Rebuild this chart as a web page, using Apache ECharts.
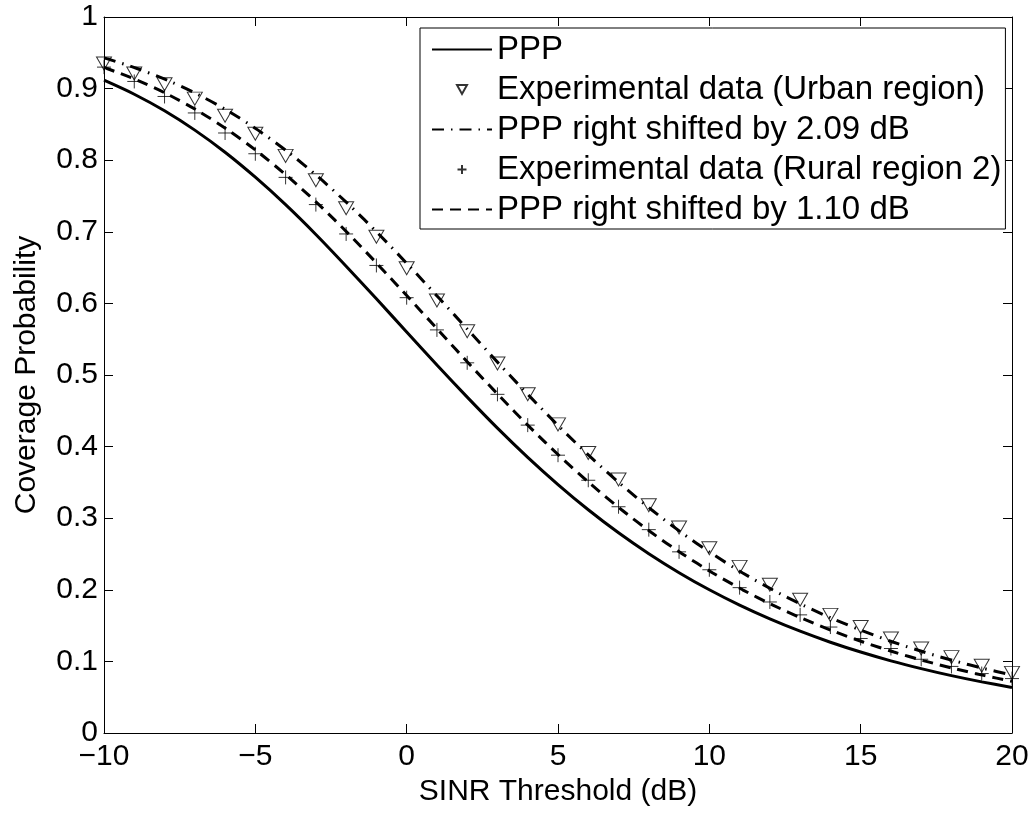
<!DOCTYPE html>
<html>
<head>
<meta charset="utf-8">
<script src="https://cdn.jsdelivr.net/npm/echarts@6/dist/echarts.min.js"></script>
<style>
html,body{margin:0;padding:0;background:#fff;}
#chart{width:1035px;height:813px;}
</style>
</head>
<body>
<div id="chart"></div>
<script>
// ---- data ----
const xTicks = [-10, -5, 0, 5, 10, 15, 20];
const yTicks = [0, 0.1, 0.2, 0.3, 0.4, 0.5, 0.6, 0.7, 0.8, 0.9, 1];

// PPP analytic curve (solid)
const pppX = [-10,-9,-8,-7,-6,-5,-4,-3,-2,-1,0,1,2,3,4,5,6,7,8,9,10,11,12,13,14,15,16,17,18,19,20];
const pppY = [0.9117,0.8921,0.8690,0.8420,0.8111,0.7762,0.7379,0.6963,0.6520,0.6064,0.5601,0.5139,0.4691,0.4258,0.3850,0.3470,0.3118,0.2796,0.2504,0.2239,0.2000,0.1786,0.1594,0.1422,0.1268,0.1131,0.1008,0.0899,0.0801,0.0714,0.0636];

// PPP right shifted by 2.09 dB (dash-dot)
const shift209X = [-10,-9.91,-8.91,-7.91,-6.91,-5.91,-4.91,-3.91,-2.91,-1.91,-0.91,0.09,1.09,2.09,3.09,4.09,5.09,6.09,7.09,8.09,9.09,10.09,11.09,12.09,13.09,14.09,15.09,16.09,17.09,18.09,19.09,20];
const shift209Y = [0.9429,0.9418,0.9281,0.9117,0.8921,0.8690,0.8420,0.8111,0.7762,0.7379,0.6963,0.6520,0.6064,0.5601,0.5139,0.4691,0.4258,0.3850,0.3470,0.3118,0.2796,0.2504,0.2239,0.2000,0.1786,0.1594,0.1422,0.1268,0.1131,0.1008,0.0899,0.0810];

// PPP right shifted by 1.10 dB (dashed)
const shift110X = [-10,-9.9,-8.9,-7.9,-6.9,-5.9,-4.9,-3.9,-2.9,-1.9,-0.9,0.1,1.1,2.1,3.1,4.1,5.1,6.1,7.1,8.1,9.1,10.1,11.1,12.1,13.1,14.1,15.1,16.1,17.1,18.1,19.1,20];
const shift110Y = [0.9296,0.9281,0.9117,0.8921,0.8690,0.8420,0.8111,0.7762,0.7379,0.6963,0.6520,0.6064,0.5601,0.5139,0.4691,0.4258,0.3850,0.3470,0.3118,0.2796,0.2504,0.2239,0.2000,0.1786,0.1594,0.1422,0.1268,0.1131,0.1008,0.0899,0.0801,0.0722];

// Experimental data
const expX = [-10,-9,-8,-7,-6,-5,-4,-3,-2,-1,0,1,2,3,4,5,6,7,8,9,10,11,12,13,14,15,16,17,18,19,20];
const urbanY = [0.935,0.921,0.906,0.886,0.862,0.837,0.806,0.772,0.733,0.693,0.649,0.604,0.561,0.516,0.473,0.431,0.391,0.354,0.318,0.287,0.258,0.232,0.207,0.186,0.165,0.148,0.132,0.118,0.106,0.094,0.084];
const ruralY = [0.930,0.910,0.889,0.866,0.838,0.809,0.776,0.738,0.697,0.653,0.608,0.563,0.517,0.473,0.430,0.388,0.353,0.316,0.284,0.253,0.228,0.203,0.183,0.165,0.148,0.132,0.118,0.103,0.093,0.083,0.076];

const names = ['PPP', 'Experimental data (Urban region)', 'PPP right shifted by 2.09 dB', 'Experimental data (Rural region 2)', 'PPP right shifted by 1.10 dB'];

// ---- build ----
const zip = (xs, ys) => xs.map((x, i) => [x, ys[i]]);
const FONT = 'Liberation Sans, Arial, Helvetica, sans-serif';
const triPath = 'path://M0,0 L10,0 L5,9 Z';
const plusPath = 'path://M0,5 L10,5 M5,0 L5,10';
const minus = v => String(v).replace('-', '\u2212');

const chart = echarts.init(document.getElementById('chart'), null, {renderer: 'canvas'});
const axisCommon = {
  axisLine: {show: true, onZero: false, lineStyle: {color: '#000', width: 1}},
  axisTick: {show: true, inside: true, length: 9, lineStyle: {color: '#000', width: 1}},
  splitLine: {show: false}
};
chart.setOption({
  animation: false,
  backgroundColor: '#fff',
  grid: {left: 104, right: 23, top: 17, bottom: 80, containLabel: false},
  xAxis: [
    Object.assign({
      type: 'value', min: -10, max: 20, interval: 5, position: 'bottom',
      name: 'SINR Threshold (dB)', nameLocation: 'middle', nameGap: 42,
      nameTextStyle: {fontFamily: FONT, fontSize: 30, color: '#000'},
      axisLabel: {fontFamily: FONT, fontSize: 30, color: '#000', margin: 9, formatter: minus}
    }, axisCommon),
    Object.assign({
      type: 'value', min: -10, max: 20, interval: 5, position: 'top',
      axisLabel: {show: false}
    }, axisCommon)
  ],
  yAxis: [
    Object.assign({
      type: 'value', min: 0, max: 1, interval: 0.1, position: 'left',
      name: 'Coverage Probability', nameLocation: 'middle', nameGap: 62,
      nameTextStyle: {fontFamily: FONT, fontSize: 30, color: '#000'},
      axisLabel: {fontFamily: FONT, fontSize: 30, color: '#000', margin: 6,
        formatter: v => String(Math.round(v * 10) / 10)}
    }, axisCommon),
    Object.assign({
      type: 'value', min: 0, max: 1, interval: 0.1, position: 'right',
      axisLabel: {show: false}
    }, axisCommon)
  ],
  legend: {
    orient: 'vertical', left: 420, top: 28,
    padding: [5, 4, 3, 11],
    itemWidth: 60, itemHeight: 9, itemGap: 7,
    backgroundColor: '#fff', borderColor: '#000', borderWidth: 1,
    textStyle: {fontFamily: FONT, fontSize: 33, color: '#000', lineHeight: 33},
    data: [
      {name: names[0], itemStyle: {opacity: 0}},
      {name: names[1]},
      {name: names[2], itemStyle: {opacity: 0}},
      {name: names[3]},
      {name: names[4], itemStyle: {opacity: 0}}
    ]
  },
  series: [
    {
      name: names[0], type: 'line', data: zip(pppX, pppY), smooth: 0.3,
      symbol: 'none', lineStyle: {color: '#000', width: 3, type: 'solid'}, itemStyle: {color: '#000'}, z: 2
    },
    {
      name: names[1], type: 'scatter', data: zip(expX, urbanY),
      symbol: triPath, symbolSize: [15, 13],
      itemStyle: {color: 'none', borderColor: '#000', borderWidth: 1}, z: 4
    },
    {
      name: names[2], type: 'line', data: zip(shift209X, shift209Y), smooth: 0.3,
      symbol: 'none', lineStyle: {color: '#000', width: 3, type: [12, 7, 1.5, 7]}, itemStyle: {color: '#000'}, z: 3
    },
    {
      name: names[3], type: 'scatter', data: zip(expX, ruralY),
      symbol: plusPath, symbolSize: 14,
      itemStyle: {color: 'none', borderColor: '#000', borderWidth: 1}, z: 4
    },
    {
      name: names[4], type: 'line', data: zip(shift110X, shift110Y), smooth: 0.3,
      symbol: 'none', lineStyle: {color: '#000', width: 3, type: [11, 7]}, itemStyle: {color: '#000'}, z: 3
    }
  ]
});
</script>
</body>
</html>
